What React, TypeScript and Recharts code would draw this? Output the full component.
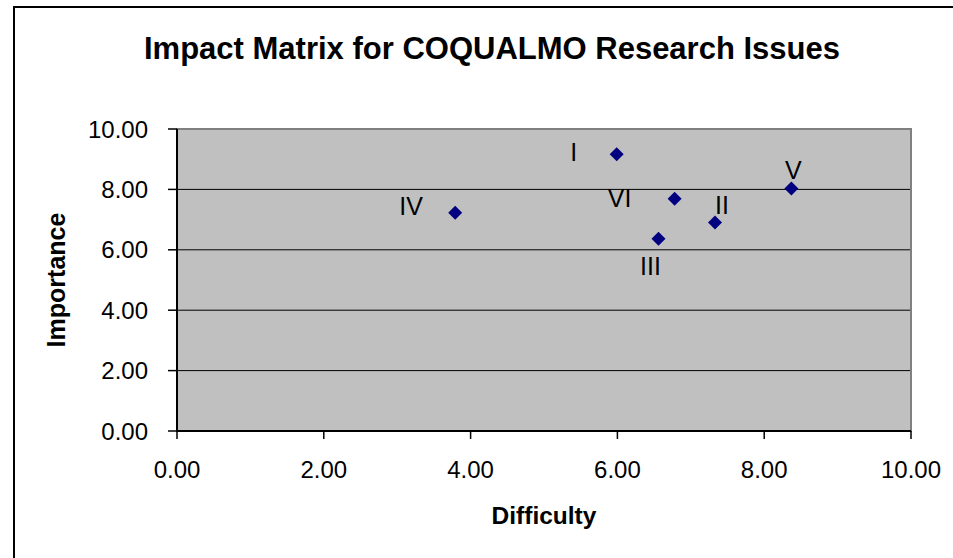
import { ScatterChart, Scatter, XAxis, YAxis, CartesianGrid, ReferenceArea } from "recharts";

const NAMES = ["I", "II", "III", "IV", "V", "VI"];
const DIFFICULTY = [5.99, 7.33, 6.56, 3.79, 8.37, 6.78];
const IMPORTANCE = [9.16, 6.9, 6.37, 7.23, 8.03, 7.69];
const TICKS = [0, 2, 4, 6, 8, 10];
const GRID_LINES = [2, 4, 6, 8];

// where each roman-numeral label sits relative to its marker
const LABEL_OFFSET: Record<string, [number, number]> = {
  I: [-43, -2],
  II: [7, -17],
  III: [-8, 27],
  IV: [-44, -7],
  V: [2, -18],
  VI: [-55, -1],
};

const FONT = "'Liberation Sans', Arial, sans-serif";

const points = NAMES.map((name, i) => ({ name, x: DIFFICULTY[i], y: IMPORTANCE[i] }));

function Marker(props: any) {
  const { cx, cy, payload } = props;
  const [dx, dy] = LABEL_OFFSET[payload.name] || [0, -18];
  const r = 7;
  return (
    <g>
      <polygon
        points={`${cx},${cy - r} ${cx + r},${cy} ${cx},${cy + r} ${cx - r},${cy}`}
        fill="#000080"
      />
      <text
        x={cx + dx}
        y={cy + dy}
        dy="0.355em"
        textAnchor="middle"
        fontFamily={FONT}
        fontSize={25}
        fill="#000"
      >
        {payload.name}
      </text>
    </g>
  );
}

const fmt = (v: number) => v.toFixed(2);

export default function App() {
  return (
    <div style={{ position: "absolute", left: 0, top: 0, width: 953, height: 558, background: "#fff", fontFamily: FONT }}>
      <div
        style={{
          position: "absolute", left: 13, top: 6, width: 940, height: 552,
          borderLeft: "2px solid #000", borderTop: "2px solid #000", boxSizing: "border-box",
        }}
      />
      <div
        style={{
          position: "absolute", left: 492, top: 33, transform: "translateX(-50%)",
          whiteSpace: "nowrap", fontSize: 31, lineHeight: "31px", fontWeight: "bold", color: "#000",
        }}
      >
        Impact Matrix for COQUALMO Research Issues
      </div>
      <ScatterChart width={953} height={558} margin={{ top: 129, right: 42, bottom: 0, left: 0 }}>
        <CartesianGrid
          vertical={false}
          horizontalValues={GRID_LINES}
          stroke="#000"
          strokeDasharray=""
          fill="#C0C0C0"
          fillOpacity={1}
        />
        <ReferenceArea x1={0} x2={10} y1={0} y2={10} fill="none" stroke="#808080" strokeWidth={2} />
        <XAxis
          type="number"
          dataKey="x"
          domain={[0, 10]}
          ticks={TICKS}
          tickFormatter={fmt}
          height={127}
          tickSize={8}
          tickMargin={22}
          axisLine={{ stroke: "#000", strokeWidth: 2 }}
          tickLine={{ stroke: "#000", strokeWidth: 1.5 }}
          tick={{ fill: "#000", fontSize: 24, fontFamily: FONT }}
          label={({ viewBox }: any) => (
            <text
              x={viewBox.x + viewBox.width / 2}
              y={viewBox.y + 93}
              textAnchor="middle"
              fontFamily={FONT}
              fontSize={24.5}
              fontWeight="bold"
              fill="#000"
            >
              Difficulty
            </text>
          )}
        />
        <YAxis
          type="number"
          dataKey="y"
          domain={[0, 10]}
          ticks={TICKS}
          tickFormatter={fmt}
          width={177}
          tickSize={9}
          tickMargin={20}
          axisLine={{ stroke: "#000", strokeWidth: 2 }}
          tickLine={{ stroke: "#000", strokeWidth: 1.5 }}
          tick={{ fill: "#000", fontSize: 24, fontFamily: FONT }}
          label={({ viewBox }: any) => {
            const cx = 56;
            const cy = viewBox.y + viewBox.height / 2;
            return (
              <text
                x={cx}
                y={cy}
                dy="0.355em"
                transform={`rotate(-90 ${cx} ${cy})`}
                textAnchor="middle"
                fontFamily={FONT}
                fontSize={25}
                fontWeight="bold"
                fill="#000"
              >
                Importance
              </text>
            );
          }}
        />
        <Scatter data={points} shape={Marker} isAnimationActive={false} />
      </ScatterChart>
    </div>
  );
}
